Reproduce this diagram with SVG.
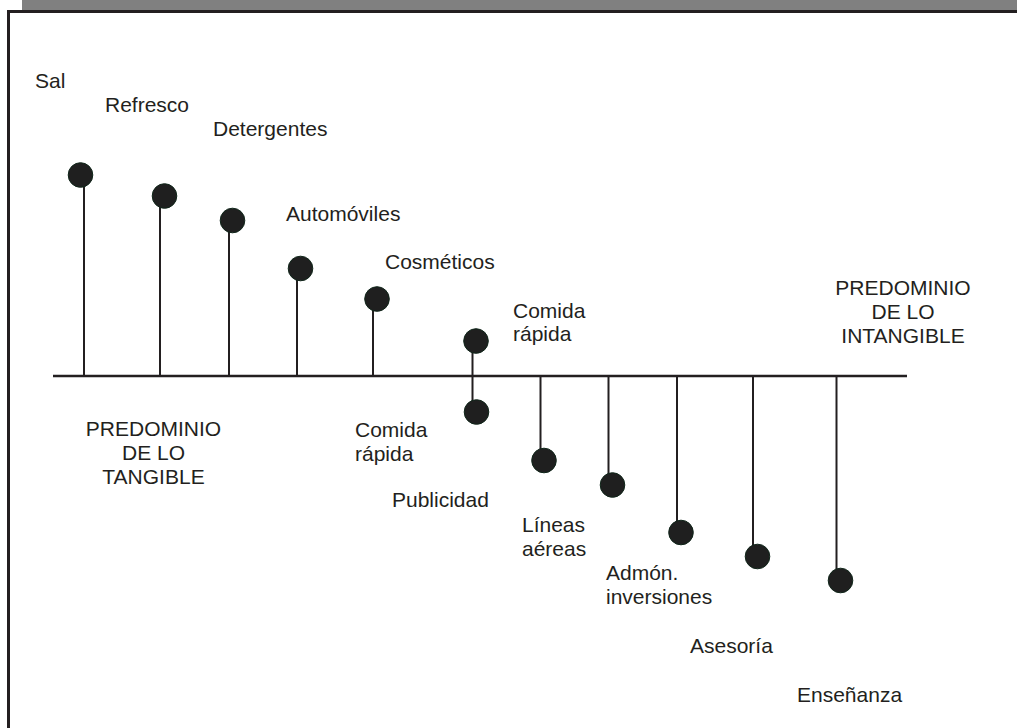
<svg xmlns="http://www.w3.org/2000/svg" width="1017" height="728" viewBox="0 0 1017 728">
  <style>
    text { font-family: "Liberation Sans", Arial, sans-serif; font-size: 21px; fill: #231f20; }
    .mid { text-anchor: middle; }
    .stem { stroke: #231f20; stroke-width: 2; fill: none; }
    .axis { stroke: #231f20; stroke-width: 2.5; fill: none; }
    .dot { fill: #1f1f1f; stroke: #10261a; stroke-width: 1; }
  </style>

  <!-- page background and frame -->
  <rect x="0" y="0" width="1017" height="728" fill="#ffffff"/>
  <rect x="22" y="0" width="995" height="10" fill="#808080"/>
  <line x1="7" y1="11.5" x2="1017" y2="11.5" stroke="#231f20" stroke-width="3"/>
  <line x1="8.5" y1="10" x2="8.5" y2="728" stroke="#231f20" stroke-width="3"/>

  <!-- axis and stems -->
  <g id="connectors">
    <line class="axis" x1="53" y1="376" x2="907" y2="376"/>
    <line class="stem" x1="84" y1="175" x2="84" y2="376"/>
    <line class="stem" x1="160" y1="196" x2="160" y2="376"/>
    <line class="stem" x1="229" y1="220" x2="229" y2="376"/>
    <line class="stem" x1="297" y1="268" x2="297" y2="376"/>
    <line class="stem" x1="373" y1="299" x2="373" y2="376"/>
    <line class="stem" x1="472.5" y1="341" x2="472.5" y2="412"/>
    <line class="stem" x1="540.5" y1="376" x2="540.5" y2="460"/>
    <line class="stem" x1="608.5" y1="376" x2="608.5" y2="484"/>
    <line class="stem" x1="677" y1="376" x2="677" y2="532"/>
    <line class="stem" x1="753" y1="376" x2="753" y2="556"/>
    <line class="stem" x1="836.5" y1="376" x2="836.5" y2="580"/>
  </g>

  <!-- tangible side -->
  <g id="sal">
    <circle class="dot" cx="80.5" cy="175" r="12.3"/>
    <text x="35" y="88">Sal</text>
  </g>
  <g id="refresco">
    <circle class="dot" cx="164.5" cy="196" r="12.3"/>
    <text x="105" y="112">Refresco</text>
  </g>
  <g id="detergentes">
    <circle class="dot" cx="232.5" cy="220.5" r="12.3"/>
    <text x="213" y="136">Detergentes</text>
  </g>
  <g id="automoviles">
    <circle class="dot" cx="300.5" cy="268.5" r="12.3"/>
    <text x="286" y="221">Automóviles</text>
  </g>
  <g id="cosmeticos">
    <circle class="dot" cx="377" cy="299" r="12.3"/>
    <text x="385" y="269">Cosméticos</text>
  </g>
  <g id="comida-rapida-tangible">
    <circle class="dot" cx="476" cy="341" r="12.3"/>
    <text x="513" y="318">Comida</text>
    <text x="513" y="341">rápida</text>
  </g>

  <!-- intangible side -->
  <g id="comida-rapida-intangible">
    <circle class="dot" cx="476.5" cy="412" r="12.3"/>
    <text x="355" y="437">Comida</text>
    <text x="355" y="461">rápida</text>
  </g>
  <g id="publicidad">
    <circle class="dot" cx="544" cy="460.5" r="12.3"/>
    <text x="392" y="507">Publicidad</text>
  </g>
  <g id="lineas-aereas">
    <circle class="dot" cx="612.5" cy="485" r="12.3"/>
    <text x="522" y="532">Líneas</text>
    <text x="522" y="556">aéreas</text>
  </g>
  <g id="admon-inversiones">
    <circle class="dot" cx="681" cy="532.5" r="12.3"/>
    <text x="606" y="580">Admón.</text>
    <text x="606" y="604">inversiones</text>
  </g>
  <g id="asesoria">
    <circle class="dot" cx="757.5" cy="556.5" r="12.3"/>
    <text x="690" y="653">Asesoría</text>
  </g>
  <g id="ensenanza">
    <circle class="dot" cx="840.5" cy="580.5" r="12.3"/>
    <text x="797" y="702">Enseñanza</text>
  </g>

  <!-- side headings -->
  <g id="predominio-tangible">
    <text class="mid" x="153.5" y="436">PREDOMINIO</text>
    <text class="mid" x="153.5" y="460">DE LO</text>
    <text class="mid" x="153.5" y="484">TANGIBLE</text>
  </g>
  <g id="predominio-intangible">
    <text class="mid" x="903" y="295">PREDOMINIO</text>
    <text class="mid" x="903" y="319">DE LO</text>
    <text class="mid" x="903" y="343">INTANGIBLE</text>
  </g>
</svg>
